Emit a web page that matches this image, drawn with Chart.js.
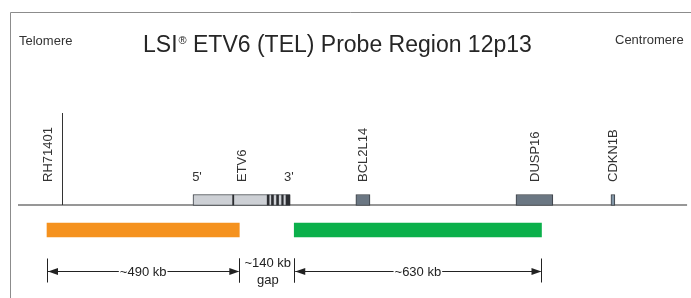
<!DOCTYPE html>
<html>
<head>
<meta charset="utf-8">
<script src="https://cdn.jsdelivr.net/npm/chart.js@4.4.1/dist/chart.umd.min.js"></script>
<style>
  html, body { margin: 0; padding: 0; background: #fff; }
  #wrap { width: 691px; height: 298px; position: relative; }
</style>
</head>
<body>
<div id="wrap"><canvas id="map"></canvas></div>
<script>
// positions in kb, 0 = telomeric end of the 5' probe
const mapStart = -74;
const mapEnd = 1631;

const markerName = 'RH71401';
const markerPos = 38;

const geneNames = ['ETV6', 'BCL2L14', 'DUSP16', 'CDKN1B'];
const geneStart = [372, 787, 1195, 1437];
const geneEnd = [619, 823, 1289, 1447];

// dark divider + 3' exon stripes inside the ETV6 box
const etv6BandStart = [473, 561, 572, 585, 598, 609];
const etv6BandEnd = [476, 566, 577, 590, 602, 619];

const probeStart = [0, 630];
const probeEnd = [490, 1260];

const spanStart = [0, 490, 630];
const spanEnd = [490, 630, 1260];
const spanLabels = ['~490 kb', '~140 kb', '~630 kb'];

const FONT = "'Liberation Sans', Arial, Helvetica, sans-serif";

// y in px above the chromosome line
const Y = { box: 5, boxH: 11, probe: -25, probeH: 14, span: -66, label: 23, prime: 28, marker: 92 };

const geneColors = ['#cdd0d5', '#6b7783', '#6b7783', '#8397a7'];

const mapPlugin = {
  id: 'mapPlugin',
  beforeDatasetsDraw(chart) {
    const { ctx, chartArea: a, scales: { x, y } } = chart;
    ctx.save();
    // frame
    ctx.strokeStyle = '#8c8c8c';
    ctx.lineWidth = 1;
    ctx.beginPath();
    ctx.moveTo(a.left + 0.5, a.bottom);
    ctx.lineTo(a.left + 0.5, a.top + 0.5);
    ctx.lineTo(a.right, a.top + 0.5);
    ctx.stroke();
    // chromosome line
    ctx.strokeStyle = '#757575';
    ctx.lineWidth = 1.5;
    ctx.beginPath();
    ctx.moveTo(x.getPixelForValue(mapStart), y.getPixelForValue(0));
    ctx.lineTo(x.getPixelForValue(mapEnd), y.getPixelForValue(0));
    ctx.stroke();
    // marker
    const mx = Math.round(x.getPixelForValue(markerPos)) + 0.5;
    ctx.strokeStyle = '#333';
    ctx.lineWidth = 1;
    ctx.beginPath();
    ctx.moveTo(mx, y.getPixelForValue(0));
    ctx.lineTo(mx, y.getPixelForValue(Y.marker));
    ctx.stroke();
    ctx.restore();
  },
  afterDatasetsDraw(chart) {
    const { ctx, chartArea: a, scales: { x, y } } = chart;
    ctx.save();
    ctx.fillStyle = '#262626';

    // title
    ctx.textBaseline = 'alphabetic';
    ctx.textAlign = 'left';
    let tx = 143;
    const ty = 52;
    ctx.font = '23px ' + FONT;
    ctx.fillText('LSI', tx, ty);
    tx += ctx.measureText('LSI').width + 1;
    ctx.font = '11px ' + FONT;
    ctx.fillText('®', tx, ty - 8);
    tx += ctx.measureText('®').width;
    ctx.font = '23px ' + FONT;
    ctx.fillText(' ETV6 (TEL) Probe Region 12p13', tx, ty);

    ctx.font = '13px ' + FONT;
    ctx.fillStyle = '#333';
    ctx.fillText('Telomere', 19, 45);
    ctx.fillText('Centromere', 615, 44);

    // rotated labels
    const yl = y.getPixelForValue(Y.label);
    const vlabel = (txt, px) => {
      ctx.save();
      ctx.translate(px, yl);
      ctx.rotate(-Math.PI / 2);
      ctx.textAlign = 'left';
      ctx.textBaseline = 'middle';
      ctx.fillText(txt, 0, 0);
      ctx.restore();
    };
    vlabel(markerName, x.getPixelForValue(markerPos) - 13);
    geneNames.forEach((g, i) => {
      vlabel(g, (x.getPixelForValue(geneStart[i]) + x.getPixelForValue(geneEnd[i])) / 2 + 1);
    });
    // 5' / 3'
    ctx.textAlign = 'center';
    ctx.textBaseline = 'middle';
    ctx.fillText("5'", x.getPixelForValue(geneStart[0]) + 4, y.getPixelForValue(Y.prime));
    ctx.fillText("3'", x.getPixelForValue(geneEnd[0]) - 1, y.getPixelForValue(Y.prime));

    // span arrows
    const ys = Math.round(y.getPixelForValue(Y.span)) + 0.5;
    ctx.strokeStyle = '#222';
    ctx.fillStyle = '#222';
    ctx.lineWidth = 1;
    const tick = (px) => {
      px = Math.round(px) + 0.5;
      ctx.beginPath();
      ctx.moveTo(px, ys - 13);
      ctx.lineTo(px, ys + 11);
      ctx.stroke();
    };
    const head = (px, dir) => {
      ctx.beginPath();
      ctx.moveTo(px, ys);
      ctx.lineTo(px + dir * 10, ys - 3.5);
      ctx.lineTo(px + dir * 10, ys + 3.5);
      ctx.closePath();
      ctx.fill();
    };
    spanLabels.forEach((lab, i) => {
      const x0 = x.getPixelForValue(spanStart[i]);
      const x1 = x.getPixelForValue(spanEnd[i]);
      const cx = (x0 + x1) / 2;
      tick(x0);
      tick(x1);
      ctx.font = '13px ' + FONT;
      if (i === 1) {
        ctx.fillText(lab, cx + 1, ys - 8);
        ctx.fillText('gap', cx + 1, ys + 9);
        return;
      }
      const w = ctx.measureText(lab).width;
      ctx.fillText(lab, cx, ys + 1);
      ctx.beginPath();
      ctx.moveTo(x0 + 1, ys);
      ctx.lineTo(cx - w / 2 - 1, ys);
      ctx.moveTo(cx + w / 2 + 1, ys);
      ctx.lineTo(x1 - 1, ys);
      ctx.stroke();
      head(x0 + 1, 1);
      head(x1, -1);
    });
    ctx.restore();
  }
};

const bar = (starts, ends, yv) => starts.map((s, i) => ({ x: [s, ends[i]], y: yv }));

// dataset 0 is drawn last (on top)
new Chart(document.getElementById('map'), {
  type: 'bar',
  data: {
    datasets: [
      {
        label: 'ETV6 bands',
        data: bar(etv6BandStart, etv6BandEnd, Y.box),
        backgroundColor: '#2b2d31',
        borderWidth: 0,
        barThickness: Y.boxH - 1,
        grouped: false
      },
      {
        label: 'genes',
        data: bar(geneStart, geneEnd, Y.box),
        backgroundColor: geneColors,
        borderColor: '#3a3e44',
        borderWidth: 1,
        borderSkipped: false,
        barThickness: Y.boxH,
        grouped: false
      },
      {
        label: 'probes',
        data: bar(probeStart, probeEnd, Y.probe),
        backgroundColor: ['#f5921e', '#0bb04b'],
        borderWidth: 0,
        barThickness: 14,
        grouped: false
      }
    ]
  },
  options: {
    indexAxis: 'y',
    responsive: true, maintainAspectRatio: false,
    animation: false,
    layout: { padding: { left: 10, top: 12, right: 0, bottom: 0 } },
    plugins: { legend: { display: false }, tooltip: { enabled: false } },
    scales: {
      x: { type: 'linear', display: false, min: -94.3, max: 1641, grid: { display: false } },
      y: { type: 'linear', display: false, min: -93, max: 193, offset: false, grid: { display: false } }
    }
  },
  plugins: [mapPlugin]
});
</script>
</body>
</html>
